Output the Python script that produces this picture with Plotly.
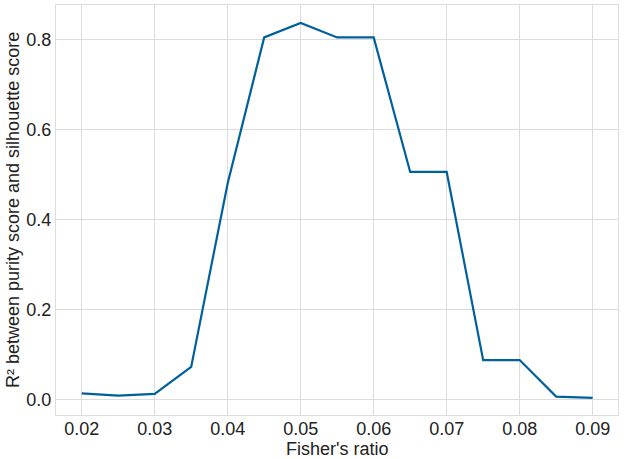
import plotly.graph_objects as go

fisher_ratio = [0.02, 0.025, 0.03, 0.035, 0.04, 0.045, 0.05, 0.055, 0.06, 0.065, 0.07, 0.075, 0.08, 0.085, 0.09]
r2_values = [0.013, 0.008, 0.012, 0.072, 0.48, 0.804, 0.836, 0.804, 0.804, 0.505, 0.505, 0.087, 0.087, 0.006, 0.003]

x_ticks = [0.02, 0.03, 0.04, 0.05, 0.06, 0.07, 0.08, 0.09]
x_tick_labels = ["0.02", "0.03", "0.04", "0.05", "0.06", "0.07", "0.08", "0.09"]
y_ticks = [0.0, 0.2, 0.4, 0.6, 0.8]
y_tick_labels = ["0.0", "0.2", "0.4", "0.6", "0.8"]
x_title = "Fisher's ratio"
y_title = "R² between purity score and silhouette score"

fig = go.Figure()
fig.add_trace(go.Scatter(x=fisher_ratio, y=r2_values, mode="lines",
                         line=dict(color="#00609c", width=2.2), showlegend=False))

axis_common = dict(showgrid=True, gridcolor="#dcdcdc", gridwidth=1, zeroline=False,
                   showline=True, linecolor="#dcdcdc", linewidth=1, mirror=True,
                   ticks="", tickfont=dict(size=18, color="#222"), automargin=False)

fig.update_layout(
    width=624, height=459,
    margin=dict(l=56, r=6, t=5, b=44),
    paper_bgcolor="white", plot_bgcolor="white",
    font=dict(family="Liberation Sans, Arial, sans-serif", color="#222"),
    xaxis=dict(range=[0.01648, 0.09347], tickvals=x_ticks, ticktext=x_tick_labels,
               ticklabelstandoff=-3, **axis_common),
    yaxis=dict(range=[-0.035, 0.876], tickvals=y_ticks, ticktext=y_tick_labels, **axis_common),
    annotations=[
        dict(text=x_title, xref="paper", yref="paper", x=0.5, y=-0.083,
             xanchor="center", yanchor="middle", showarrow=False,
             font=dict(size=18, color="#222")),
        dict(text=y_title, xref="paper", yref="paper", x=-0.0765, y=0.5,
             xanchor="center", yanchor="middle", textangle=-90, showarrow=False,
             font=dict(size=18, color="#222")),
    ],
)

fig.write_html("out.html", config={"displayModeBar": False},
               post_script="document.body.style.margin='0';document.body.style.overflow='hidden';")
